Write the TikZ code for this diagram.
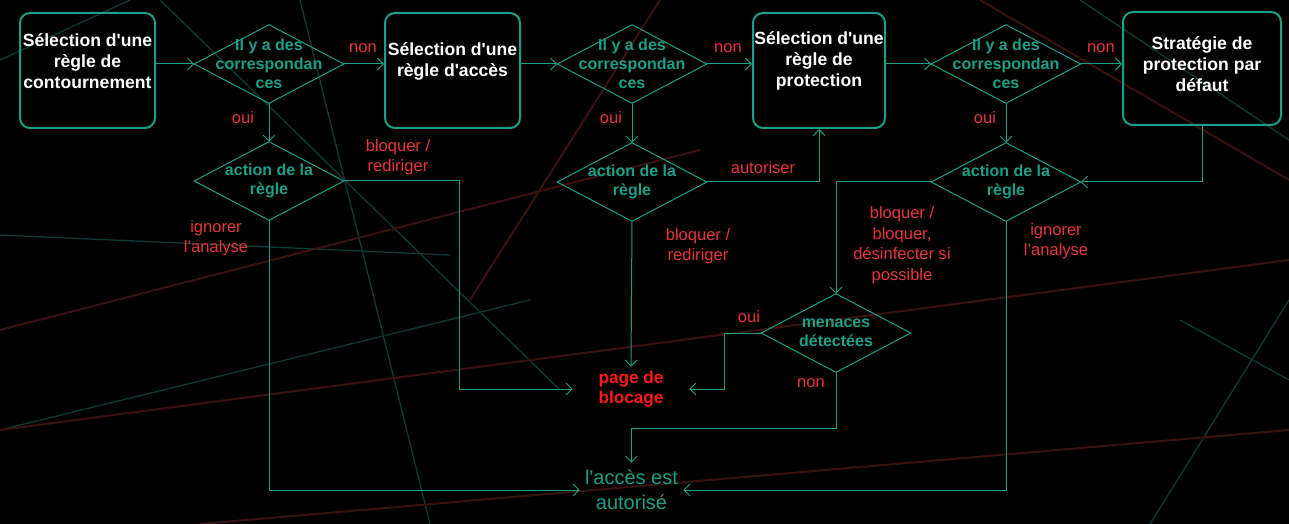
\documentclass[tikz,border=0pt]{standalone}
\usepackage{fontspec}
\setmainfont{Liberation Sans}
\usetikzlibrary{arrows.meta}
\definecolor{vert}{HTML}{1BA088}
\definecolor{rouge}{HTML}{E8353D}
\definecolor{rougevif}{HTML}{FF1A1A}
\definecolor{fondvert}{HTML}{0D3A34}
\definecolor{fondrouge}{HTML}{3A1210}
\begin{document}
\begin{tikzpicture}[x=0.75pt,y=-0.75pt,
  regle/.style={draw=vert,line width=1.5pt,rounded corners=7.5pt,minimum width=101.25pt,minimum height=86.25pt,inner sep=0pt},
  regletxt/.style={text=white,font=\fontsize{13.2}{15.75}\selectfont\bfseries,align=center,inner sep=0pt},
  cond/.style={minimum width=111.75pt,minimum height=58.5pt,inner sep=0pt,align=center,text=vert,
    font=\fontsize{12}{14.25}\selectfont\bfseries,
    append after command={\pgfextra{\draw[vert,line width=0.75pt] (\tikzlastnode.north) -- (\tikzlastnode.east) -- (\tikzlastnode.south) -- (\tikzlastnode.west) -- cycle;}}},
  lbl/.style={text=rouge,font=\fontsize{12.4}{15.4}\selectfont,align=center,inner sep=0pt},
  flow/.style={draw=vert,line width=0.75pt,-{Straight Barb[length=4.5pt,width=9pt]}}]
\fill[black] (0,0) rectangle (1289,524);
\useasboundingbox (0,0) rectangle (1289,524);
% fond
\draw[fondvert,line width=1pt] (0,235) -- (450,255);
\draw[fondvert,line width=1pt] (300,0) -- (430,524);
\draw[fondvert,line width=1pt] (160,0) -- (560,390);
\draw[fondvert,line width=1pt] (0,430) -- (530,300);
\draw[fondvert,line width=1pt] (0,60) -- (130,0);
\draw[fondvert,line width=1pt] (1150,524) -- (1289,300);
\draw[fondvert,line width=1pt] (1080,0) -- (1289,140);
\draw[fondvert,line width=1pt] (1180,320) -- (1289,380);
\draw[fondrouge,line width=1.5pt] (660,0) -- (470,300);
\draw[fondrouge,line width=1.5pt] (0,330) -- (700,150);
\draw[fondrouge,line width=1.5pt] (0,430) -- (1289,260);
\draw[fondrouge,line width=1.5pt] (980,0) -- (1289,180);
\draw[fondrouge,line width=1.5pt] (200,524) -- (1289,430);
% regles
\node[regle] (b1) at (87.5,70.5) {};
\node[regletxt] (b1t) at (87.5,61) {Sélection d\textquotesingle une\\règle de\\contournement};
\node[regle] (b2) at (452.5,70.5) {};
\node[regletxt] (b2t) at (452.5,61) {Sélection d\textquotesingle une\\règle d\textquotesingle accès};
\node[regle,minimum width=99pt] (b3) at (819,70.5) {};
\node[regletxt] (b3t) at (819,61) {Sélection d\textquotesingle une\\règle de\\protection};
\node[regle,minimum width=118.5pt,minimum height=84.75pt] (b4) at (1202,68.5) {};
\node[regletxt] (b4t) at (1202,64) {Stratégie de\\protection par\\défaut};
% conditions
\node[cond] (d1) at (269,64) {Il y a des\\correspondan\\ces};
\node[cond] (a1) at (269,181) {action de la\\règle};
\node[cond] (d2) at (632,64) {Il y a des\\correspondan\\ces};
\node[cond] (a2) at (632,182) {action de la\\règle};
\node[cond] (d3) at (1006,64) {Il y a des\\correspondan\\ces};
\node[cond] (a3) at (1006,182) {action de la\\règle};
\node[cond] (m) at (836,333) {menaces\\détectées};
% fins
\node[text=rougevif,font=\fontsize{12.9}{15}\selectfont\bfseries,align=center,inner sep=0pt,minimum width=87pt,minimum height=33pt] (pb) at (631,389) {page de\\blocage};
\node[text=vert,font=\fontsize{15}{18.75}\selectfont,align=center,inner sep=0pt,minimum width=77.25pt,minimum height=40.5pt] (acc) at (631.5,490) {l\textquotesingle accès est\\autorisé};
% fleches
\draw[flow] (d1.west -| b1.east) -- (d1.west);
\draw[flow] (d1.east) -- (d1.east -| b2.west);
\draw[flow] (d2.west -| b2.east) -- (d2.west);
\draw[flow] (d2.east) -- (d2.east -| b3.west);
\draw[flow] (d3.west -| b3.east) -- (d3.west);
\draw[flow] (d3.east) -- (d3.east -| b4.west);
\draw[flow] (d1.south) -- (a1.north);
\draw[flow] (d2.south) -- (a2.north);
\draw[flow] (d3.south) -- (a3.north);
\draw[flow] (a1.east) -- ++(116,0) |- (pb.west);
\draw[flow] (a1.south) |- (acc.west);
\draw[flow] (a2.east) -| (b3.south);
\draw[flow] (a2.south) -- (pb.north);
\draw[flow] (b4.south) |- (a3.east);
\draw[flow] (a3.west) -| (m.north);
\draw[flow] (a3.south) |- (acc.east);
\draw[flow] (m.west) -- ++(-37,0) |- (pb.east);
\draw[flow] (m.south) -- ++(0,56) -| (acc.north);
% etiquettes
\node[lbl] (n1) at (363,48) {non};
\node[lbl] (n2) at (728,48) {non};
\node[lbl] (n3) at (1101,48) {non};
\node[lbl] (o1) at (243,118) {oui};
\node[lbl] (o2) at (611,118) {oui};
\node[lbl] (o3) at (985,118) {oui};
\node[lbl] (r1) at (398,157) {bloquer /\\rediriger};
\node[lbl] (i1) at (216,238) {ignorer\\l’analyse};
\node[lbl] (au) at (763,168) {autoriser};
\node[lbl] (r2) at (698,246) {bloquer /\\rediriger};
\node[lbl] (r3) at (902,245) {bloquer /\\bloquer,\\désinfecter si\\possible};
\node[lbl] (i3) at (1056,241) {ignorer\\l’analyse};
\node[lbl] (om) at (749,317) {oui};
\node[lbl] (nm) at (811,383) {non};
\end{tikzpicture}
\end{document}
